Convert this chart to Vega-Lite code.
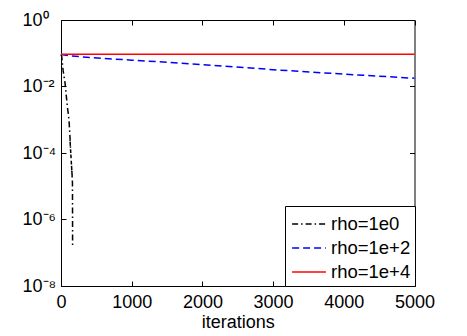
{
  "$schema": "https://vega.github.io/schema/vega-lite/v6.json",
  "width": 353.5,
  "height": 266,
  "autosize": {"type": "none"},
  "padding": {"left": 61, "top": 20, "right": 53, "bottom": 50},
  "config": {
    "view": {"stroke": "black", "strokeWidth": 1},
    "font": "Liberation Sans",
    "axis": {
      "grid": false,
      "domain": false,
      "tickColor": "black",
      "tickSize": 5,
      "offset": -5,
      "tickWidth": 1,
      "labelColor": "black",
      "labelFont": "Liberation Sans",
      "labelFontSize": 18,
      "titleFont": "Liberation Sans",
      "titleFontSize": 18,
      "titleFontWeight": "normal",
      "titleColor": "black"
    },
    "legend": {
      "title": null,
      "orient": "bottom-right",
      "offset": 0,
      "strokeColor": "black",
      "fillColor": "white",
      "padding": 4,
      "labelFont": "Liberation Sans",
      "labelFontSize": 18.5,
      "labelColor": "black",
      "labelOffset": 8,
      "symbolOffset": 6,
      "symbolType": "M-1.3,0H1.3",
      "symbolSize": 676,
      "symbolStrokeWidth": 1.5,
      "rowPadding": 0
    }
  },
  "data": {
    "values": [
      {"s": "rho=1e0", "i": 0, "x": 0, "y": 0.092},
      {"s": "rho=1e0", "i": 1, "x": 10, "y": 0.08},
      {"s": "rho=1e0", "i": 2, "x": 30, "y": 0.03},
      {"s": "rho=1e0", "i": 3, "x": 57, "y": 0.0128},
      {"s": "rho=1e0", "i": 4, "x": 90, "y": 0.0025},
      {"s": "rho=1e0", "i": 5, "x": 113, "y": 0.001},
      {"s": "rho=1e0", "i": 6, "x": 127, "y": 0.0003},
      {"s": "rho=1e0", "i": 7, "x": 133, "y": 0.00015},
      {"s": "rho=1e0", "i": 8, "x": 129, "y": 0.00022},
      {"s": "rho=1e0", "i": 9, "x": 138, "y": 0.0001},
      {"s": "rho=1e0", "i": 10, "x": 134, "y": 0.00014},
      {"s": "rho=1e0", "i": 11, "x": 143, "y": 0.00007},
      {"s": "rho=1e0", "i": 12, "x": 139, "y": 0.00009},
      {"s": "rho=1e0", "i": 13, "x": 148, "y": 0.000045},
      {"s": "rho=1e0", "i": 14, "x": 144, "y": 0.00006},
      {"s": "rho=1e0", "i": 15, "x": 153, "y": 0.00003},
      {"s": "rho=1e0", "i": 16, "x": 149, "y": 0.00004},
      {"s": "rho=1e0", "i": 17, "x": 158, "y": 0.00002},
      {"s": "rho=1e0", "i": 18, "x": 155, "y": 0.000023},
      {"s": "rho=1e0", "i": 19, "x": 162, "y": 0.000013},
      {"s": "rho=1e0", "i": 20, "x": 163, "y": 0.000003},
      {"s": "rho=1e0", "i": 21, "x": 164, "y": 0.00000017},
      {"s": "rho=1e+2", "i": 0, "x": 0, "y": 0.092},
      {"s": "rho=1e+2", "i": 1, "x": 100, "y": 0.085},
      {"s": "rho=1e+2", "i": 2, "x": 410, "y": 0.074},
      {"s": "rho=1e+2", "i": 3, "x": 1000, "y": 0.062},
      {"s": "rho=1e+2", "i": 4, "x": 1540, "y": 0.053},
      {"s": "rho=1e+2", "i": 5, "x": 2300, "y": 0.041},
      {"s": "rho=1e+2", "i": 6, "x": 3100, "y": 0.031},
      {"s": "rho=1e+2", "i": 7, "x": 4000, "y": 0.0236},
      {"s": "rho=1e+2", "i": 8, "x": 5000, "y": 0.0177},
      {"s": "rho=1e+4", "i": 0, "x": 0, "y": 0.094},
      {"s": "rho=1e+4", "i": 1, "x": 2500, "y": 0.094},
      {"s": "rho=1e+4", "i": 2, "x": 5000, "y": 0.094}
    ]
  },
  "layer": [
    {
      "mark": {"type": "line", "strokeWidth": 1.5},
      "encoding": {
        "x": {
          "field": "x", "type": "quantitative",
          "scale": {"domain": [0, 5000], "nice": false},
          "axis": {"values": [0, 1000, 2000, 3000, 4000, 5000], "format": "d", "title": "iterations", "labelPadding": 7, "titlePadding": 2, "labelFlush": false}
        },
        "y": {
          "field": "y", "type": "quantitative",
          "scale": {"type": "log", "domain": [1e-8, 1], "nice": false},
          "axis": {
            "values": [1e-8, 1e-6, 1e-4, 1e-2, 1],
            "title": null,
            "labelAlign": "left",
            "labelPadding": 39,
            "labelFlush": false,
            "labelExpr": "'10' + ['⁰','⁻²','⁻⁴','⁻⁶','⁻⁸'][round(-log(datum.value)/LN10/2)]"
          }
        },
        "color": {
          "field": "s", "type": "nominal",
          "scale": {"domain": ["rho=1e0", "rho=1e+2", "rho=1e+4"], "range": ["#000000", "#0000ff", "#ff0000"]}
        },
        "strokeDash": {
          "field": "s", "type": "nominal",
          "scale": {"domain": ["rho=1e0", "rho=1e+2", "rho=1e+4"], "range": [[6, 3, 1.5, 3], [7, 4], [1, 0]]}
        },
        "order": {"field": "i", "type": "quantitative"}
      }
    },
    {
      "mark": {"type": "line", "opacity": 0},
      "encoding": {
        "x": {
          "field": "x", "type": "quantitative",
          "axis": {"orient": "top", "values": [0, 1000, 2000, 3000, 4000, 5000], "labels": false, "title": null}
        },
        "y": {
          "field": "y", "type": "quantitative",
          "axis": {"orient": "right", "values": [1e-8, 1e-6, 1e-4, 1e-2, 1], "labels": false, "title": null}
        },
        "detail": {"field": "s", "type": "nominal"},
        "order": {"field": "i", "type": "quantitative"}
      }
    }
  ],
  "resolve": {"axis": {"x": "independent", "y": "independent"}}
}
